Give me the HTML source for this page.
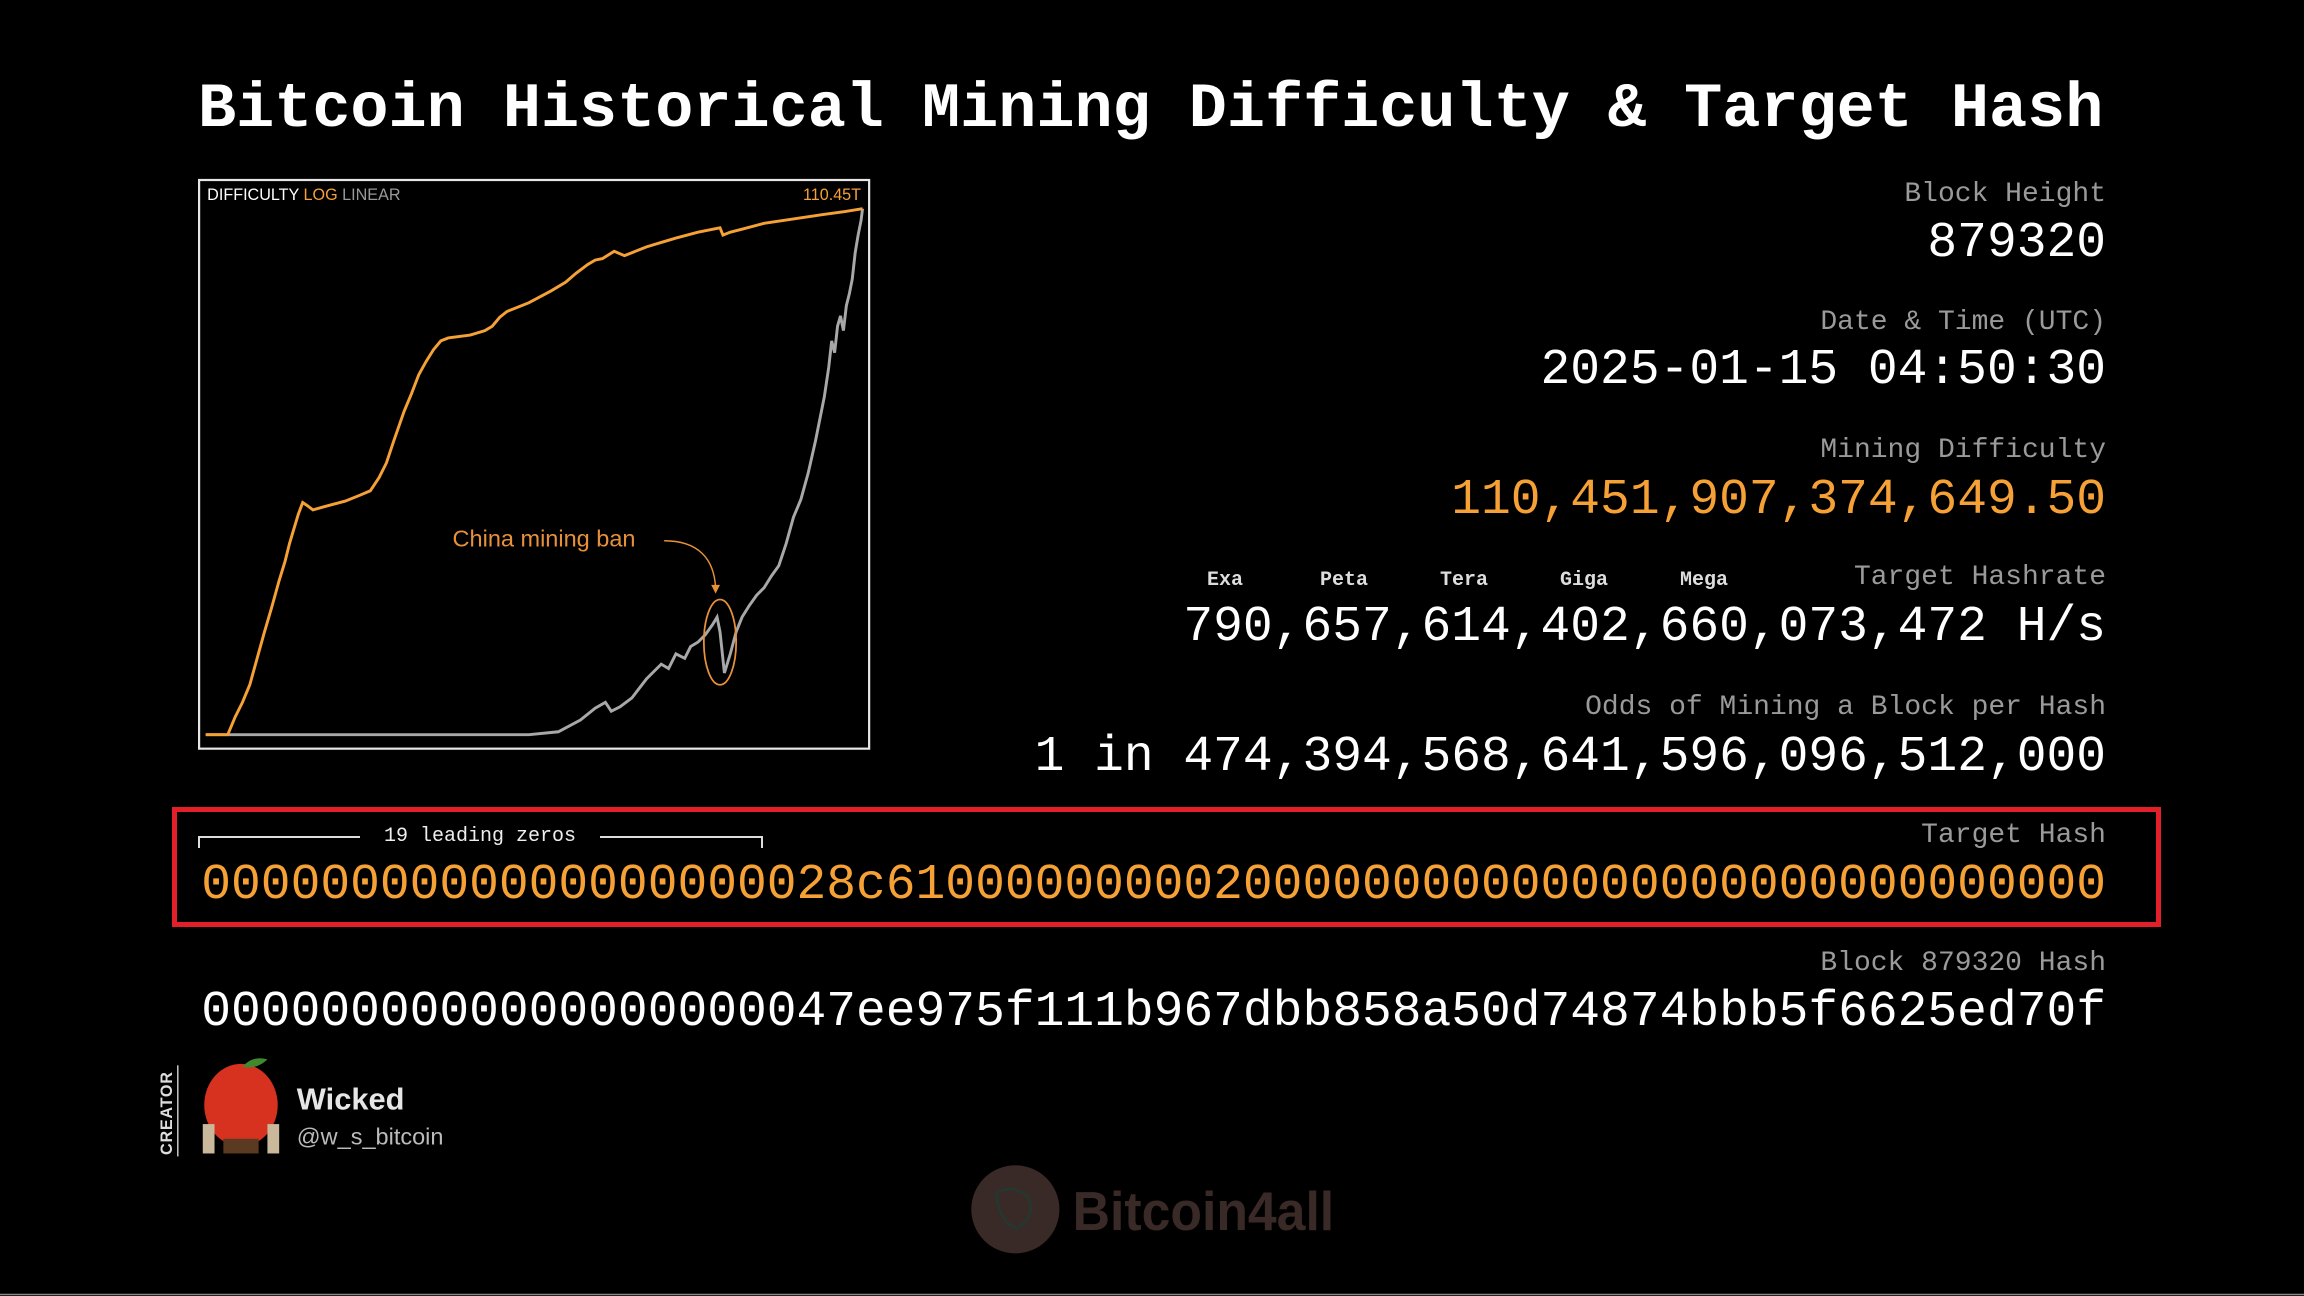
<!DOCTYPE html>
<html><head><meta charset="utf-8"><style>
html,body{margin:0;padding:0;background:#000;}
body{width:2304px;height:1296px;position:relative;overflow:hidden;font-family:"Liberation Mono","DejaVu Sans Mono",monospace;}
.t{position:absolute;white-space:pre;}
.lab{right:198px;font-size:28px;line-height:28px;color:#9a9a9a;}
.val{right:198px;font-size:49.6px;line-height:50px;color:#fff;}
.or{color:#f6a136;}
.u{font-family:"Liberation Mono",monospace;font-weight:bold;font-size:20px;line-height:20px;color:#ddd;}
</style></head><body>
<div class="t" style="left:198px;top:77px;font-size:63.5px;line-height:66px;font-weight:bold;color:#fff;">Bitcoin Historical Mining Difficulty &amp; Target Hash</div>

<div class="t lab" style="top:181px">Block Height</div>
<div class="t val" style="top:218px">879320</div>
<div class="t lab" style="top:309px">Date &amp; Time (UTC)</div>
<div class="t val" style="top:345px">2025-01-15 04:50:30</div>
<div class="t lab" style="top:437px">Mining Difficulty</div>
<div class="t val or" style="top:475px">110,451,907,374,649.50</div>
<div class="t lab" style="top:564px">Target Hashrate</div>
<div class="t u" style="left:1207px;top:571px">Exa</div>
<div class="t u" style="left:1320px;top:571px">Peta</div>
<div class="t u" style="left:1440px;top:571px">Tera</div>
<div class="t u" style="left:1560px;top:571px">Giga</div>
<div class="t u" style="left:1680px;top:571px">Mega</div>
<div class="t val" style="top:602px">790,657,614,402,660,073,472 H/s</div>
<div class="t lab" style="top:694px">Odds of Mining a Block per Hash</div>
<div class="t val" style="top:732px">1 in 474,394,568,641,596,096,512,000</div>

<div style="position:absolute;left:172px;top:807px;width:1979px;height:110px;border:5px solid #e3202a;"></div>
<div style="position:absolute;left:198px;top:836px;width:564px;height:2px;background:#ddd;"></div>
<div style="position:absolute;left:198px;top:836px;width:2px;height:12px;background:#ddd;"></div>
<div style="position:absolute;left:761px;top:836px;width:2px;height:12px;background:#ddd;"></div>
<div class="t" style="left:360px;top:825px;width:240px;text-align:center;background:#000;color:#eee;font-size:20px;line-height:24px;">19 leading zeros</div>
<div class="t lab" style="top:822px">Target Hash</div>
<div class="t val or" style="top:860px">0000000000000000000028c61000000000200000000000000000000000000000</div>
<div class="t lab" style="top:950px">Block 879320 Hash</div>
<div class="t val" style="top:987px">0000000000000000000047ee975f111b967dbb858a50d74874bbb5f6625ed70f</div>

<svg style="position:absolute;left:0;top:0" width="2304" height="1296" viewBox="0 0 1568 882">
<rect x="135.5" y="122.5" width="456" height="387" fill="#000" stroke="#e6e6e6" stroke-width="1.5"/>
<text x="141" y="136" font-family="Liberation Sans,sans-serif" font-size="11" fill="#fff">DIFFICULTY <tspan fill="#f6a136">LOG</tspan> <tspan fill="#999">LINEAR</tspan></text>
<text x="586" y="136" text-anchor="end" font-family="Liberation Sans,sans-serif" font-size="11" fill="#f6a136">110.45T</text>
<polyline fill="none" stroke="#a8a8a8" stroke-width="2" points="140,500 360,500 380,498 395,490 405,482 412,478 416,484 422,481 430,475 440,462 445,457 450,452 455,455 460,445 466,448 470,440 475,437 480,432 485,425 488,420 490,430 493,458 497,445 501,430 505,420 510,412 515,405 520,400 525,392 530,385 535,370 540,352 545,340 550,322 555,300 558,285 561,270 564,250 566,232 568,240 570,222 572,215 574,225 576,208 578,200 580,190 582,172 584,160 586,150 587,142"/>
<polyline fill="none" stroke="#f6a136" stroke-width="2" points="140,500 155,500 160,488 165,478 170,466 175,448 180,430 185,413 190,395 194,382 197,370 200,360 203,350 206,342 209,344 213,347 220,345 235,341 245,337 252,334 258,325 263,315 268,300 275,280 280,268 285,255 290,246 295,238 300,232 305,230 320,228 330,225 335,222 340,216 345,212 360,206 375,198 385,192 392,186 400,180 405,177 410,176 418,171 425,174 430,172 440,168 450,165 460,162 475,158 490,155 492,160 497,158 505,156 520,152 540,149 560,146 575,144 587,142"/>
<ellipse cx="490" cy="437" rx="11" ry="29" fill="none" stroke="#e8913a" stroke-width="1.2"/>
<path d="M452,368 C475,368 486,380 487,400" fill="none" stroke="#e8913a" stroke-width="1"/>
<path d="M484,398 L487,404 L490,398 Z" fill="#e8913a"/>
<text x="308" y="372" font-family="Liberation Sans,sans-serif" font-size="16" fill="#e8913a">China mining ban</text>
<line x1="121" y1="725" x2="121" y2="787" stroke="#ccc" stroke-width="1"/>
<text x="0" y="0" transform="translate(117,786) rotate(-90)" font-family="Liberation Sans,sans-serif" font-size="11" font-weight="bold" fill="#ddd" letter-spacing="0.5">CREATOR</text>
<ellipse cx="164" cy="752" rx="25" ry="28" fill="#d7321f"/>
<path d="M165,726 Q172,718 182,721 Q175,728 165,726Z" fill="#3f8a2c"/>
<rect x="138" y="765" width="8" height="20" fill="#c9b89a"/>
<rect x="182" y="765" width="8" height="20" fill="#c9b89a"/>
<rect x="152" y="775" width="24" height="10" fill="#5a3a20"/>
<text x="202" y="755" font-family="Liberation Sans,sans-serif" font-size="21" font-weight="bold" fill="#e6e6e6">Wicked</text>
<text x="202" y="779" font-family="Liberation Sans,sans-serif" font-size="16" fill="#bbb">@w_s_bitcoin</text>
<ellipse cx="691" cy="823" rx="30" ry="30" fill="#3a2a27"/>
<path d="M678,812 Q690,805 700,815 Q705,828 692,836 Q680,832 678,812Z" fill="none" stroke="#1f3a30" stroke-width="1.5"/>
<text x="730" y="837" font-family="Liberation Sans,sans-serif" font-size="37" font-weight="bold" fill="#3a2a27" textLength="178" lengthAdjust="spacingAndGlyphs">Bitcoin4all</text>
<line x1="0" y1="881" x2="1568" y2="881" stroke="#888" stroke-width="1"/>
</svg>
</body></html>
